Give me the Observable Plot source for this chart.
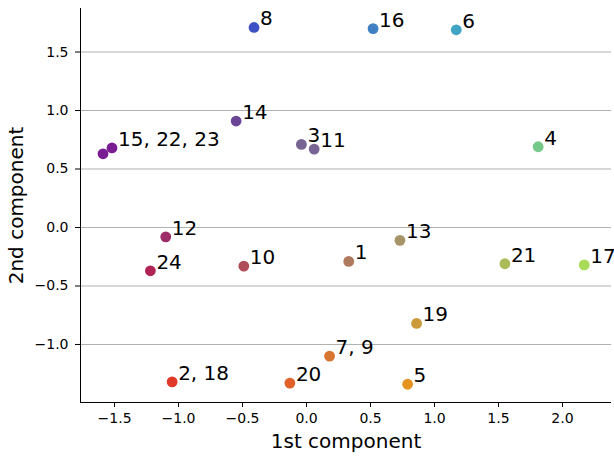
<!DOCTYPE html>
<html>
<head>
<meta charset="utf-8">
<script src="https://cdn.jsdelivr.net/npm/d3@7"></script>
<script src="https://cdn.jsdelivr.net/npm/@observablehq/plot@0.6"></script>
<style>
  html, body { margin: 0; padding: 0; background: #ffffff; }
  #chart { width: 614px; height: 456px; overflow: hidden; }
  #chart g[aria-label*="tick label"] { font-size: 14px; }
</style>
</head>
<body>
<div id="chart"></div>
<script>
// Point labels (some visible dots stand for several overlapping items)
const pointLabels = ["8", "16", "6", "14", "", "15, 22, 23", "3", "11", "4", "12", "24", "10", "1", "13", "21", "17", "19", "7, 9", "2, 18", "20", "5"];
// 1st component values
const pc1 = [-0.41, 0.52, 1.17, -0.55, -1.59, -1.52, -0.04, 0.06, 1.81, -1.10, -1.22, -0.49, 0.33, 0.73, 1.55, 2.17, 0.86, 0.18, -1.05, -0.13, 0.79];
// 2nd component values
const pc2 = [1.71, 1.70, 1.69, 0.91, 0.63, 0.68, 0.71, 0.67, 0.69, -0.08, -0.37, -0.33, -0.29, -0.11, -0.31, -0.32, -0.82, -1.10, -1.32, -1.33, -1.34];
// Point colours
const pointColors = ["#3d51c4", "#3f7fc2", "#40a5c4", "#6b4697", "#7a1d92", "#7a1d92", "#776492", "#776492", "#74c888", "#9c2d68", "#b02455", "#b04b58", "#b07a5e", "#a69468", "#aabb58", "#a8dc58", "#cc9a3a", "#d87530", "#e0392a", "#e0622a", "#e6921e"];
// Axes
const xTicks = [-1.5, -1.0, -0.5, 0.0, 0.5, 1.0, 1.5, 2.0];
const yTicks = [-1.0, -0.5, 0.0, 0.5, 1.0, 1.5];
const xDomain = [-1.766, 2.383];
const yDomain = [-1.496, 1.872];
const xLabel = "1st component";
const yLabel = "2nd component";

const idx = d3.range(pc1.length);
const fmt = d => d3.format(".1f")(d).replace("-", "\u2212");

const chart = Plot.plot({
  width: 614,
  height: 456,
  marginLeft: 80,
  marginRight: 3,
  marginTop: 8,
  marginBottom: 54,
  style: { fontFamily: "DejaVu Sans", fontSize: "14px", background: "#ffffff", color: "#000000", overflow: "hidden" },
  x: { domain: xDomain },
  y: { domain: yDomain },
  marks: [
    Plot.gridY(yTicks, { stroke: "#b0b0b0", strokeOpacity: 1, strokeWidth: 1 }),
    Plot.ruleX([xDomain[0]], { stroke: "#000000", strokeWidth: 1 }),
    Plot.ruleY([yDomain[0]], { stroke: "#000000", strokeWidth: 1 }),
    Plot.axisX(xTicks, { tickSize: 5, tickPadding: 6, tickFormat: fmt, label: null, fontSize: 14, stroke: "#000000" }),
    Plot.axisY(yTicks, { tickSize: 5, tickPadding: 7, tickFormat: fmt, label: null, fontSize: 14, stroke: "#000000" }),
    Plot.dot(idx, { x: i => pc1[i], y: i => pc2[i], fill: i => pointColors[i], r: 5.4, stroke: null }),
    Plot.text(idx, { x: i => pc1[i], y: i => pc2[i], text: i => pointLabels[i], textAnchor: "start", lineAnchor: "bottom", dx: 6, dy: -2, fontSize: 20, fill: "#000000" }),
    Plot.text([xLabel], { text: d => d, frameAnchor: "bottom", lineAnchor: "bottom", dy: 45, fontSize: 20, fill: "#000000" }),
    Plot.text([yLabel], { text: d => d, frameAnchor: "left", rotate: -90, lineAnchor: "bottom", textAnchor: "middle", dx: -58, fontSize: 20, fill: "#000000" })
  ]
});
document.getElementById("chart").appendChild(chart);
</script>
</body>
</html>
